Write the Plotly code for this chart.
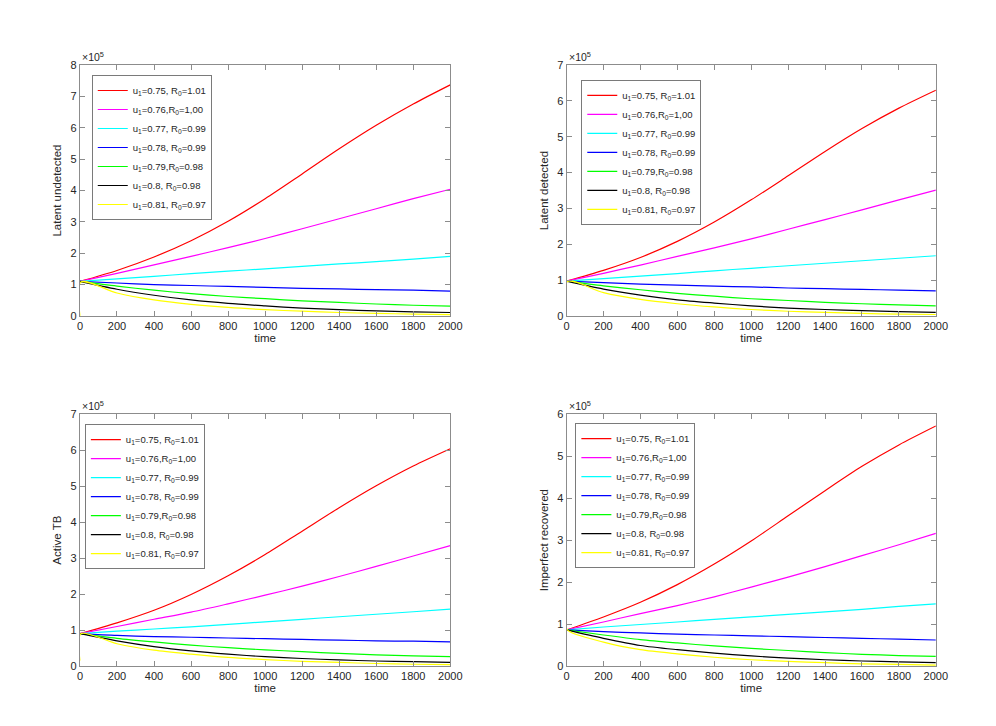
import plotly.graph_objects as go

# time grids
T = [0, 200, 400, 600, 800, 1000, 1200, 1400, 1600, 1800, 2000]
T_Y = [0, 5, 200, 400, 600, 800, 1000, 1200, 1400, 1600, 1800, 2000]

labels = [
    "u<sub>1</sub>=0.75, R<sub>0</sub>=1.01",
    "u<sub>1</sub>=0.76,R<sub>0</sub>=1,00",
    "u<sub>1</sub>=0.77, R<sub>0</sub>=0.99",
    "u<sub>1</sub>=0.78, R<sub>0</sub>=0.99",
    "u<sub>1</sub>=0.79,R<sub>0</sub>=0.98",
    "u<sub>1</sub>=0.8, R<sub>0</sub>=0.98",
    "u<sub>1</sub>=0.81, R<sub>0</sub>=0.97",
]
colors = ["#ff0000", "#ff00ff", "#00ffff", "#0000ff", "#00ff00", "#000000", "#ffff00"]

# values in units of 1e5
# Latent undetected
lu_red = [1.1, 1.45, 1.88, 2.4, 3.02, 3.74, 4.53, 5.33, 6.08, 6.76, 7.37]
lu_mag = [1.1, 1.36, 1.63, 1.9, 2.18, 2.47, 2.78, 3.1, 3.42, 3.74, 4.04]
lu_cya = [1.1, 1.18, 1.26, 1.35, 1.43, 1.5, 1.58, 1.66, 1.73, 1.81, 1.9]
lu_blu = [1.1, 1.05, 1.0, 0.97, 0.94, 0.91, 0.88, 0.86, 0.84, 0.82, 0.79]
lu_gre = [1.1, 0.95, 0.82, 0.71, 0.62, 0.55, 0.48, 0.43, 0.38, 0.34, 0.31]
lu_bla = [1.1, 0.85, 0.66, 0.51, 0.40, 0.32, 0.25, 0.2, 0.16, 0.13, 0.11]
lu_yel = [0.0, 1.08, 0.73, 0.51, 0.37, 0.27, 0.2, 0.15, 0.11, 0.08, 0.06, 0.04]

# Latent detected
ld_red = [0.97, 1.27, 1.63, 2.08, 2.62, 3.24, 3.91, 4.59, 5.23, 5.8, 6.3]
ld_mag = [0.97, 1.19, 1.42, 1.66, 1.9, 2.15, 2.42, 2.69, 2.96, 3.24, 3.51]
ld_cya = [0.97, 1.04, 1.11, 1.18, 1.26, 1.33, 1.4, 1.47, 1.54, 1.61, 1.68]
ld_blu = [0.97, 0.93, 0.89, 0.86, 0.83, 0.81, 0.78, 0.76, 0.74, 0.72, 0.70]
ld_gre = [0.97, 0.84, 0.73, 0.63, 0.55, 0.48, 0.43, 0.38, 0.34, 0.31, 0.28]
ld_bla = [0.97, 0.75, 0.58, 0.45, 0.36, 0.28, 0.22, 0.18, 0.15, 0.12, 0.10]
ld_yel = [0.0, 0.96, 0.65, 0.46, 0.34, 0.25, 0.18, 0.13, 0.1, 0.07, 0.05, 0.04]

# Active TB
at_red = [0.9, 1.2, 1.55, 1.99, 2.51, 3.1, 3.75, 4.4, 5.01, 5.56, 6.04]
at_mag = [0.9, 1.1, 1.3, 1.5, 1.73, 1.97, 2.22, 2.49, 2.77, 3.06, 3.35]
at_cya = [0.9, 0.97, 1.03, 1.09, 1.16, 1.23, 1.3, 1.37, 1.44, 1.51, 1.58]
at_blu = [0.9, 0.85, 0.82, 0.80, 0.78, 0.76, 0.74, 0.72, 0.70, 0.69, 0.67]
at_gre = [0.9, 0.77, 0.67, 0.58, 0.51, 0.45, 0.40, 0.35, 0.31, 0.28, 0.26]
at_bla = [0.9, 0.70, 0.54, 0.42, 0.33, 0.26, 0.21, 0.17, 0.14, 0.12, 0.10]
at_yel = [0.15, 0.9, 0.62, 0.44, 0.33, 0.24, 0.18, 0.13, 0.1, 0.07, 0.05, 0.04]

# Imperfect recovered
ir_red = [0.86, 1.17, 1.52, 1.94, 2.43, 2.98, 3.58, 4.18, 4.76, 5.27, 5.72]
ir_mag = [0.86, 1.05, 1.25, 1.44, 1.65, 1.88, 2.12, 2.37, 2.63, 2.89, 3.16]
ir_cya = [0.86, 0.93, 0.99, 1.05, 1.11, 1.17, 1.23, 1.29, 1.35, 1.42, 1.48]
ir_blu = [0.86, 0.82, 0.79, 0.76, 0.74, 0.72, 0.70, 0.68, 0.66, 0.64, 0.62]
ir_gre = [0.86, 0.74, 0.63, 0.55, 0.48, 0.42, 0.37, 0.32, 0.28, 0.25, 0.23]
ir_bla = [0.86, 0.66, 0.49, 0.39, 0.31, 0.24, 0.19, 0.15, 0.12, 0.10, 0.08]
ir_yel = [1.12, 0.86, 0.57, 0.39, 0.29, 0.21, 0.15, 0.11, 0.08, 0.05, 0.04, 0.02]

panels = [
    ("Latent undetected", [lu_red, lu_mag, lu_cya, lu_blu, lu_gre, lu_bla, lu_yel], 8),
    ("Latent detected", [ld_red, ld_mag, ld_cya, ld_blu, ld_gre, ld_bla, ld_yel], 7),
    ("Active TB", [at_red, at_mag, at_cya, at_blu, at_gre, at_bla, at_yel], 7),
    ("Imperfect recovered", [ir_red, ir_mag, ir_cya, ir_blu, ir_gre, ir_bla, ir_yel], 6),
]

W, H = 996, 726
xdoms = [[70 / W, 446 / W], [564 / W, 939 / W], [70 / W, 446 / W], [564 / W, 939 / W]]
ydoms = [[1 - 307 / H, 1 - 52 / H], [1 - 307 / H, 1 - 52 / H],
         [1 - 663 / H, 1 - 407 / H], [1 - 663 / H, 1 - 407 / H]]
legpos = [(82 / W, 1 - 62 / H), (579 / W, 1 - 67 / H), (75 / W, 1 - 417 / H), (573 / W, 1 - 416 / H)]

FONT = "Liberation Sans, Arial, Helvetica, sans-serif"
AXC = "#8c8c8c"
TXC = "#262626"

fig = go.Figure()
layout = dict(width=W, height=H, margin=dict(l=0, r=0, t=0, b=0),
              paper_bgcolor="white", plot_bgcolor="white",
              font=dict(family=FONT, size=10.5, color=TXC), annotations=[])

for i, (title, series, ymax) in enumerate(panels):
    n = i + 1
    xa = "x" if n == 1 else f"x{n}"
    ya = "y" if n == 1 else f"y{n}"
    lg = "legend" if n == 1 else f"legend{n}"
    for j, ser in enumerate(series):
        xs = T_Y if j == 6 else T
        fig.add_trace(go.Scatter(
            x=xs, y=ser, mode="lines", name=labels[j],
            line=dict(color=colors[j], width=1.2, shape="spline", smoothing=0.8),
            xaxis=xa, yaxis=ya, legend=lg, showlegend=True))
    axis_common = dict(showline=True, linecolor=AXC, linewidth=1, mirror="ticks",
                       ticks="inside", ticklen=5, tickcolor=AXC, showgrid=False,
                       zeroline=False, tickfont=dict(family=FONT, size=11, color=TXC))
    layout["xaxis" if n == 1 else f"xaxis{n}"] = dict(
        domain=xdoms[i], range=[0, 2000], tickvals=list(range(0, 2001, 200)),
        anchor=ya,
        title=dict(text="time", font=dict(family=FONT, size=11.5, color=TXC), standoff=2),
        **axis_common)
    layout["yaxis" if n == 1 else f"yaxis{n}"] = dict(
        domain=ydoms[i], range=[0, ymax], tickvals=list(range(0, ymax + 1)),
        anchor=xa,
        title=dict(text=title, font=dict(family=FONT, size=11.5, color=TXC), standoff=6),
        **axis_common)
    layout[lg] = dict(x=legpos[i][0], y=legpos[i][1], xanchor="left", yanchor="top",
                      xref="paper", yref="paper",
                      bgcolor="white", bordercolor="#7a7a7a", borderwidth=1,
                      font=dict(family=FONT, size=9.5, color=TXC),
                      itemwidth=30, tracegroupgap=0)
    layout["annotations"].append(dict(
        text="\u00d710<sup>5</sup>", xref="paper", yref="paper",
        x=xdoms[i][0], y=ydoms[i][1], xanchor="left", yanchor="bottom",
        showarrow=False, font=dict(family=FONT, size=10.5, color=TXC)))

fig.update_layout(**layout)
fig.write_html("out.html")
